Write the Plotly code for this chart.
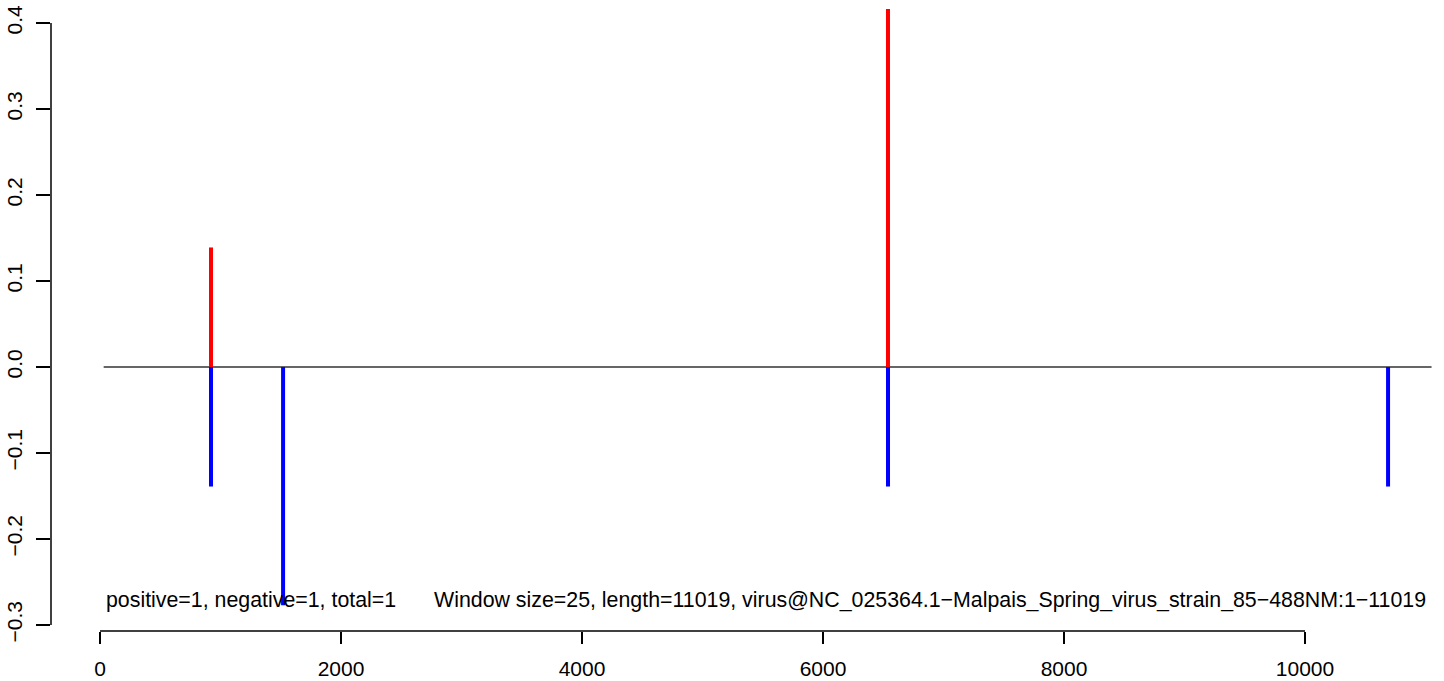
import plotly.graph_objects as go

# ---- data ----
pos_x = [921, 6539]
pos_y = [0.139, 0.42]
neg_x = [921, 1519, 6539, 10689]
neg_y = [-0.139, -0.277, -0.139, -0.139]
baseline_x = [30, 11050]
seq_length = 11019
x_ticks = [0, 2000, 4000, 6000, 8000, 10000]
y_ticks = [-0.3, -0.2, -0.1, 0.0, 0.1, 0.2, 0.3, 0.4]
left_text = "positive=1, negative=1, total=1"
right_text = ("Window size=25, length=11019, "
              "virus@NC_025364.1\u2212Malpais_Spring_virus_strain_85\u2212488NM:1\u221211019")

FONT = "Liberation Sans, Arial, Helvetica, sans-serif"
FS = 21
FS_TXT = 21.35


def segs(xs, ys):
    sx, sy = [], []
    for x, y in zip(xs, ys):
        sx += [x, x, None]
        sy += [0, y, None]
    return sx, sy


fig = go.Figure()
fig.add_trace(go.Scatter(x=baseline_x, y=[0, 0], mode="lines",
                         line=dict(color="#333333", width=1.3), hoverinfo="skip"))
px_, py_ = segs(pos_x, pos_y)
fig.add_trace(go.Scatter(x=px_, y=py_, mode="lines",
                         line=dict(color="#FF0000", width=4), hoverinfo="skip"))
nx_, ny_ = segs(neg_x, neg_y)
fig.add_trace(go.Scatter(x=nx_, y=ny_, mode="lines",
                         line=dict(color="#0000FF", width=4), hoverinfo="skip"))


def fmt(v):
    s = f"{v:.1f}"
    return s.replace("-", "\u2212")


fig.update_layout(
    width=1444, height=681,
    margin=dict(l=51, r=4, t=9, b=50),
    paper_bgcolor="white", plot_bgcolor="white",
    showlegend=False,
    font=dict(family=FONT, size=FS, color="black"),
    xaxis=dict(range=[-407, 11120], showgrid=False, zeroline=False, showline=False,
               automargin=False,
               tickvals=x_ticks, ticktext=[str(v) for v in x_ticks],
               ticks="outside", ticklen=12, tickwidth=1.5, tickcolor="black",
               ticklabelstandoff=7, tickfont=dict(size=FS)),
    yaxis=dict(range=[-0.307, 0.4163], showgrid=False, zeroline=False, showline=False,
               automargin=False,
               tickvals=y_ticks, ticktext=[fmt(v) for v in y_ticks],
               ticks="outside", ticklen=14, tickwidth=1.5, tickcolor="black",
               ticklabelstandoff=6, tickangle=-90, tickfont=dict(size=FS)),
    shapes=[
        dict(type="line", xref="paper", yref="y", x0=0, x1=0,
             y0=min(y_ticks), y1=max(y_ticks), line=dict(color="black", width=1.5)),
        dict(type="line", xref="x", yref="paper", x0=min(x_ticks), x1=max(x_ticks),
             y0=0, y1=0, line=dict(color="black", width=1.5)),
    ],
    annotations=[
        dict(x=baseline_x[0], y=-0.271, xref="x", yref="y", text=left_text,
             showarrow=False, xanchor="left", yanchor="middle", font=dict(size=FS_TXT)),
        dict(x=seq_length, y=-0.271, xref="x", yref="y", text=right_text,
             showarrow=False, xanchor="right", yanchor="middle", font=dict(size=FS_TXT)),
    ],
)

fig.write_html("out.html", config={"displayModeBar": False},
               post_script="document.body.style.margin='0';document.body.style.overflow='hidden';")
